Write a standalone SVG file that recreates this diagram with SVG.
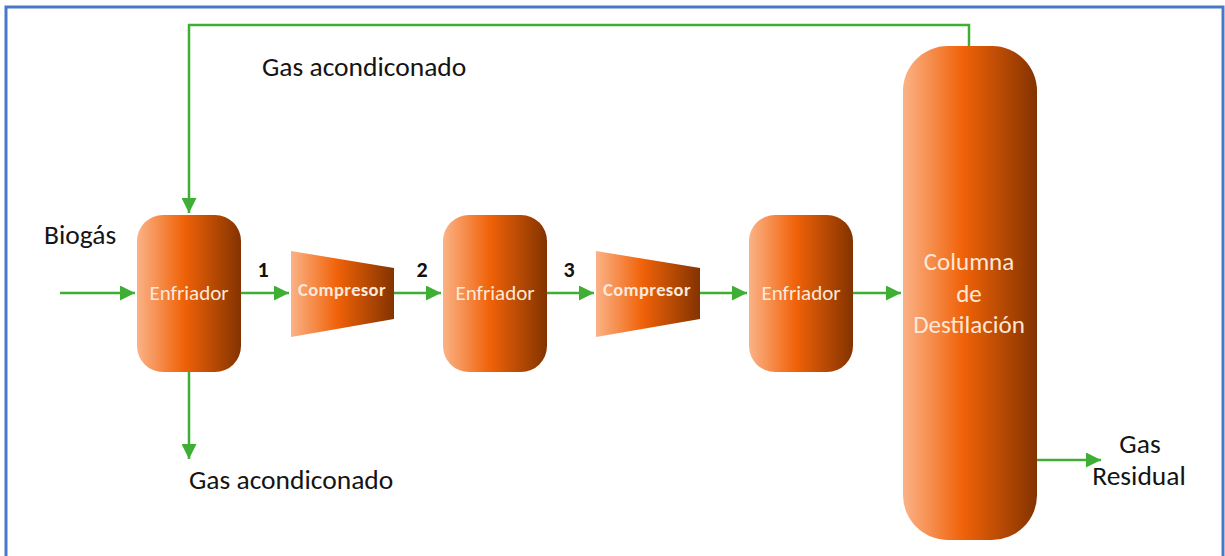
<svg xmlns="http://www.w3.org/2000/svg" width="1225" height="556" viewBox="0 0 1225 556">
  <style>
    .frame { fill: none; stroke: #4a78c8; stroke-width: 3; }
    .unit { fill: url(#orange); }
    .flow { fill: none; stroke: #3fae35; stroke-width: 2.5; }
    .lbl { font-family: Carlito, "Liberation Sans", sans-serif; fill: #141414; font-size: 27.5px; }
    .num { font-family: Carlito, "Liberation Sans", sans-serif; font-weight: bold; fill: #111; font-size: 22px; text-anchor: middle; }
    .in { font-family: Carlito, "Liberation Sans", sans-serif; fill: #fde8d8; text-anchor: middle; }
    .eq { font-size: 21px; }
    .cp { font-size: 18.5px; font-weight: bold; letter-spacing: 0.4px; }
    .col { font-size: 25px; }
  </style>
  <defs>
    <linearGradient id="orange" x1="0" y1="0" x2="1" y2="0">
      <stop offset="0" stop-color="#fbb287"/>
      <stop offset="0.45" stop-color="#f06208"/>
      <stop offset="1" stop-color="#833300"/>
    </linearGradient>
    <marker id="arrow" viewBox="0 0 10 10" refX="10" refY="5" markerWidth="6" markerHeight="6" markerUnits="strokeWidth" orient="auto">
      <path d="M0,0 L10,5 L0,10 z" fill="#3fae35"/>
    </marker>
  </defs>

  <rect class="frame" x="6" y="7" width="1217" height="560"/>

  <g id="connectors">
    <path class="flow" d="M60,293 H135" marker-end="url(#arrow)"/>
    <path class="flow" d="M241,293 H289" marker-end="url(#arrow)"/>
    <path class="flow" d="M394,293 H441" marker-end="url(#arrow)"/>
    <path class="flow" d="M547,293 H594" marker-end="url(#arrow)"/>
    <path class="flow" d="M700,293 H747" marker-end="url(#arrow)"/>
    <path class="flow" d="M853,293 H901" marker-end="url(#arrow)"/>
    <path class="flow" d="M189,372 V459" marker-end="url(#arrow)"/>
    <path class="flow" d="M969,47 V25 H189 V213" marker-end="url(#arrow)"/>
    <path class="flow" d="M1037,460 H1101" marker-end="url(#arrow)"/>
  </g>

  <g id="enfriador-1">
    <rect class="unit" x="137" y="215" width="104" height="157" rx="26" ry="26"/>
    <text class="in eq" x="189" y="300">Enfriador</text>
  </g>
  <g id="compresor-1">
    <polygon class="unit" points="291,251 394,268 394,319 291,337"/>
    <text class="in cp" x="342" y="296">Compresor</text>
  </g>
  <g id="enfriador-2">
    <rect class="unit" x="443" y="215" width="104" height="157" rx="26" ry="26"/>
    <text class="in eq" x="495" y="300">Enfriador</text>
  </g>
  <g id="compresor-2">
    <polygon class="unit" points="596,251 700,268 700,319 596,337"/>
    <text class="in cp" x="647" y="296">Compresor</text>
  </g>
  <g id="enfriador-3">
    <rect class="unit" x="749" y="215" width="104" height="157" rx="26" ry="26"/>
    <text class="in eq" x="801" y="300">Enfriador</text>
  </g>
  <g id="columna">
    <rect class="unit" x="903" y="46" width="134" height="494" rx="45" ry="45"/>
    <text class="in col" x="969" y="270">Columna</text>
    <text class="in col" x="969" y="302">de</text>
    <text class="in col" x="969" y="333">Destilación</text>
  </g>

  <g id="labels">
    <text class="lbl" x="44" y="244">Biogás</text>
    <text class="lbl" x="262" y="76">Gas acondiconado</text>
    <text class="lbl" x="189" y="489">Gas acondiconado</text>
    <text class="lbl" x="1140" y="453" text-anchor="middle">Gas</text>
    <text class="lbl" x="1139" y="485" text-anchor="middle">Residual</text>
    <text class="num" x="263" y="277">1</text>
    <text class="num" x="422" y="277">2</text>
    <text class="num" x="569" y="277">3</text>
  </g>
</svg>
